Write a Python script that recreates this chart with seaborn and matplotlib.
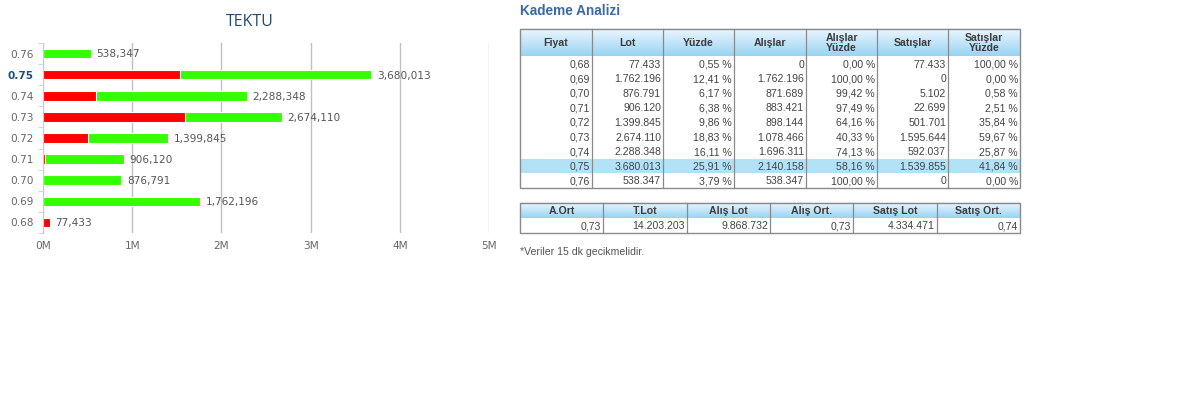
import numpy as np
import pandas as pd
import seaborn as sns
import matplotlib.pyplot as plt

# price levels (ascending, as in the table)
fiyat = [0.68, 0.69, 0.70, 0.71, 0.72, 0.73, 0.74, 0.75, 0.76]
alislar = [0, 1762196, 871689, 883421, 898144, 1078466, 1696311, 2140158, 538347]
satislar = [77433, 0, 5102, 22699, 501701, 1595644, 592037, 1539855, 0]
yuzde = [0.55, 12.41, 6.17, 6.38, 9.86, 18.83, 16.11, 25.91, 3.79]
alis_yuzde = [0.00, 100.00, 99.42, 97.49, 64.16, 40.33, 74.13, 58.16, 100.00]
satis_yuzde = [100.00, 0.00, 0.58, 2.51, 35.84, 59.67, 25.87, 41.84, 0.00]
aktif_fiyat = 0.75

x_ticks = [0, 1e6, 2e6, 3e6, 4e6, 5e6]
x_tick_labels = ["0M", "1M", "2M", "3M", "4M", "5M"]

tablo_basliklar = ["Fiyat", "Lot", "Yüzde", "Alışlar", "Alışlar\nYüzde", "Satışlar", "Satışlar\nYüzde"]
ozet_basliklar = ["A.Ort", "T.Lot", "Alış Lot", "Alış Ort.", "Satış Lot", "Satış Ort."]
ozet_degerler = ["0,73", "14.203.203", "9.868.732", "0,73", "4.334.471", "0,74"]

W, H = 1181, 399
GREEN = "#33ff00"
RED = "#ff0000"
CHART_FONT = "DejaVu Sans"
CHART_FS = 7.6


def tr_int(v):
    return f"{v:,}".replace(",", ".")


def tr_pct(v):
    return f"{v:.2f}".replace(".", ",") + " %"


df = pd.DataFrame({"Fiyat": [f"{f:.2f}" for f in fiyat], "Alış": alislar, "Satış": satislar})
df["Lot"] = df["Alış"] + df["Satış"]
df = df.iloc[::-1].reset_index(drop=True)
order = list(df["Fiyat"])

fig = plt.figure(figsize=(W / 100, H / 100), dpi=100)

# ---- bar chart ----
ax = fig.add_axes([43 / W, 1 - 233 / H, 446 / W, 190 / H])
sns.barplot(data=df, y="Fiyat", x="Lot", order=order, color=GREEN, saturation=1,
            width=0.45, errorbar=None, edgecolor="white", linewidth=0.8, ax=ax)
sns.barplot(data=df, y="Fiyat", x="Satış", order=order, color=RED, saturation=1,
            width=0.45, errorbar=None, edgecolor="white", linewidth=0.8, ax=ax)

cap_half = CHART_FS * 0.729 / 2
for i, lot in enumerate(df["Lot"]):
    ax.annotate(f"{lot:,}", (lot, i), xytext=(4, -cap_half), textcoords="offset points",
                va="baseline", ha="left", fontsize=CHART_FS, color="#555555", family=CHART_FONT)

ax.set_xlim(0, 5e6)
ax.set_ylim(8.5, -0.5)
ax.set_xticks(x_ticks)
ax.set_xticklabels(x_tick_labels)
ax.set_yticks(range(len(order)))
ax.set_yticks(np.arange(-0.5, len(order), 1), minor=True)
ax.set_xlabel("")
ax.set_ylabel("")
ax.xaxis.grid(True, color="#c0c0c0", lw=1)
ax.set_axisbelow(True)
for s in ["top", "right", "bottom"]:
    ax.spines[s].set_visible(False)
ax.spines["left"].set_color("#c0d0e0")
ax.tick_params(axis="x", length=0, pad=6, labelsize=CHART_FS, labelcolor="#666666")
ax.tick_params(axis="y", which="major", length=0, pad=6.5, labelsize=CHART_FS, labelcolor="#666666")
ax.tick_params(axis="y", which="minor", length=3.6, color="#c0d0e0")
for lbl in ax.get_xticklabels() + ax.get_yticklabels():
    lbl.set_family(CHART_FONT)
for lbl in ax.get_yticklabels():
    if lbl.get_text() == f"{aktif_fiyat:.2f}":
        lbl.set_fontweight("bold")
        lbl.set_color("#1f4e79")

fig.text(250 / W, 1 - 22 / H, "TEKTU", ha="center", va="center", fontsize=11.5,
         color="#274b6d", family="Open Sans")

# ---- tables (pixel coordinate overlay) ----
tax = fig.add_axes([0, 0, 1, 1])
tax.axis("off")
FONT = "Liberation Sans"
FS = 7.6
TXT = "#444444"
BORDER = "#8a8a8a"
top_c = np.array([0.93, 0.97, 1.0])
bot_c = np.array([0.60, 0.83, 0.95])
base_off = FS * 100 / 72 * 0.716 / 2


def header_bg(x0, x1, y0, y1):
    t = np.linspace(0, 1, 40)[:, None, None]
    grad = top_c * (1 - t) + bot_c * t
    tax.imshow(grad, extent=(x0, x1, y1, y0), origin="upper", aspect="auto",
               interpolation="bilinear", zorder=1)


tax.text(520, 11, "Kademe Analizi", ha="left", va="center", fontsize=9.8,
         fontweight="bold", color="#3a6aa5", family=FONT)

# main table
cols = [520, 592, 663, 734, 806, 877, 948, 1020]
hy0, hy1 = 28.5, 56.5
ry = 14.6
n = len(fiyat)
by = hy1 + ry * n
header_bg(cols[0], cols[-1], hy0, hy1)
for j, h in enumerate(tablo_basliklar):
    tax.text((cols[j] + cols[j + 1]) / 2, (hy0 + hy1) / 2 + 0.5, h, ha="center", va="center",
             fontsize=FS, fontweight="bold", color="#3c3c3c", family=FONT, linespacing=0.95, zorder=3)

rows = []
for k in range(n):
    lot = alislar[k] + satislar[k]
    rows.append([f"{fiyat[k]:.2f}".replace(".", ","), tr_int(lot), tr_pct(yuzde[k]),
                 tr_int(alislar[k]), tr_pct(alis_yuzde[k]), tr_int(satislar[k]),
                 tr_pct(satis_yuzde[k])])

for k, row in enumerate(rows):
    y0 = hy1 + ry * k
    if fiyat[k] == aktif_fiyat:
        tax.add_patch(plt.Rectangle((cols[0], y0), cols[-1] - cols[0], ry,
                                    facecolor="#b3e2f7", edgecolor="none", zorder=1))
    for j, val in enumerate(row):
        tax.text(cols[j + 1] - 2, y0 + ry / 2 + base_off, val, ha="right", va="baseline",
                 fontsize=FS, color=TXT, family=FONT, zorder=3)

for x in cols[1:-1]:
    tax.plot([x, x], [hy0, by], color=BORDER, lw=0.9, zorder=2)
tax.add_patch(plt.Rectangle((cols[0], hy0), cols[-1] - cols[0], by - hy0,
                            facecolor="none", edgecolor=BORDER, lw=1, zorder=2))

# summary table
scols = np.linspace(520, 1020, len(ozet_basliklar) + 1)
sy0, sy1, sy2 = 202.5, 218, 232.5
header_bg(scols[0], scols[-1], sy0, sy1)
for j, (h, v) in enumerate(zip(ozet_basliklar, ozet_degerler)):
    tax.text((scols[j] + scols[j + 1]) / 2, (sy0 + sy1) / 2 + base_off, h, ha="center", va="baseline",
             fontsize=FS, fontweight="bold", color="#3c3c3c", family=FONT, zorder=3)
    tax.text(scols[j + 1] - 2, (sy1 + sy2) / 2 + base_off, v, ha="right", va="baseline",
             fontsize=FS, color=TXT, family=FONT, zorder=3)
for x in scols[1:-1]:
    tax.plot([x, x], [sy0, sy2], color=BORDER, lw=0.9, zorder=2)
tax.add_patch(plt.Rectangle((scols[0], sy0), scols[-1] - scols[0], sy2 - sy0,
                            facecolor="none", edgecolor=BORDER, lw=1, zorder=2))

tax.text(520, 252, "*Veriler 15 dk gecikmelidir.", ha="left", va="center", fontsize=FS,
         color="#555555", family=FONT)

tax.set_xlim(0, W)
tax.set_ylim(H, 0)

fig.savefig("out.png", dpi=100)
